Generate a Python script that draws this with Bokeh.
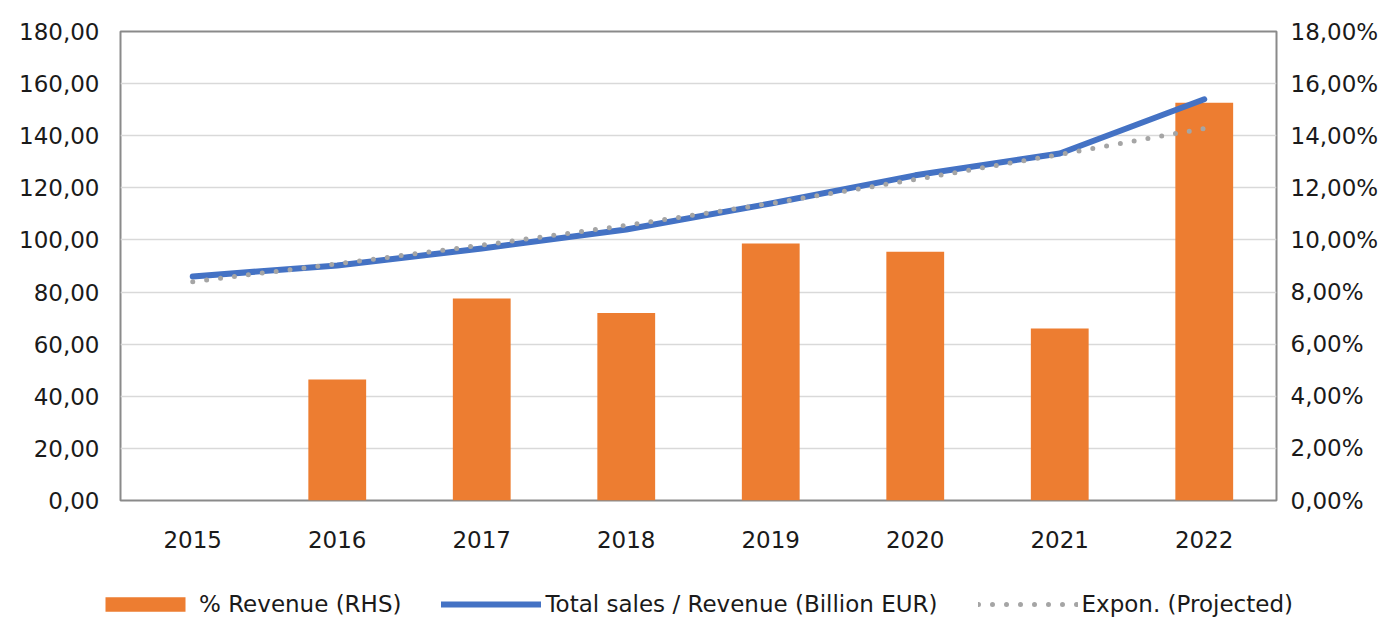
from bokeh.plotting import figure
from bokeh.layouts import column, row
from bokeh.models import (Range1d, FactorRange, LinearAxis, FixedTicker,
                          CustomJSTickFormatter, Legend, LegendItem, ColumnDataSource)
from bokeh.embed import file_html
from bokeh.resources import INLINE

years = ["2015", "2016", "2017", "2018", "2019", "2020", "2021", "2022"]
revenue = [86.0, 90.2, 96.7, 104.0, 114.0, 124.8, 133.2, 154.0]
pct_revenue = [float("nan"), 0.0464, 0.0775, 0.0720, 0.0986, 0.0955, 0.0660, 0.1527]
projected = [84.0, 90.8, 98.0, 105.6, 114.0, 123.2, 132.8, 142.8]
left_ticks = [0, 20, 40, 60, 80, 100, 120, 140, 160, 180]
right_ticks = [0, 0.02, 0.04, 0.06, 0.08, 0.10, 0.12, 0.14, 0.16, 0.18]
series_names = ["% Revenue (RHS)", "Total sales / Revenue (Billion EUR)", "Expon. (Projected)"]

FONT = "DejaVu Sans"
FS = "23px"
TXT = "#1a1a1a"
ORANGE, BLUE, GRAY = "#ED7D31", "#4472C4", "#A5A5A5"

src = ColumnDataSource(dict(year=years, revenue=revenue, pct=pct_revenue, proj=projected))


def add_series(fig, y_name):
    b = fig.vbar(x="year", top="pct", width=0.4, source=src, y_range_name=y_name,
                 fill_color=ORANGE, line_color=None)
    l = fig.line(x="year", y="revenue", source=src, line_color=BLUE, line_width=6,
                 line_cap="round", line_join="round")
    t = fig.line(x="year", y="proj", source=src, line_color=GRAY, line_width=5,
                 line_dash="0 14", line_cap="round")
    return b, l, t


p = figure(x_range=FactorRange(*years, range_padding=0), y_range=Range1d(0, 180),
           width=1393, height=560, output_backend="svg", toolbar_location=None,
           min_border_left=120, min_border_right=117, min_border_top=31, min_border_bottom=60)
p.extra_y_ranges = {"pct": Range1d(0, 0.18)}
add_series(p, "pct")

# axes
p.yaxis.ticker = FixedTicker(ticks=left_ticks)
p.yaxis.formatter = CustomJSTickFormatter(code="return tick.toFixed(2).replace('.', ',');")
raxis = LinearAxis(y_range_name="pct", ticker=FixedTicker(ticks=right_ticks),
                   formatter=CustomJSTickFormatter(
                       code="return (tick*100).toFixed(2).replace('.', ',') + '%';"))
p.add_layout(raxis, "right")

for ax in [p.xaxis[0], p.yaxis[0], raxis]:
    ax.axis_line_color = None
    ax.major_tick_line_color = None
    ax.minor_tick_line_color = None
    ax.major_tick_out = 0
    ax.major_tick_in = 0
    ax.minor_tick_out = 0
    ax.minor_tick_in = 0
    ax.major_label_text_font = FONT
    ax.major_label_text_font_size = FS
    ax.major_label_text_color = TXT
p.yaxis[0].major_label_standoff = 21
raxis.major_label_standoff = 14
p.xaxis[0].major_label_standoff = 30

p.xgrid.grid_line_color = None
p.ygrid.grid_line_color = "#d9d9d9"
p.ygrid.grid_line_width = 1.5
p.outline_line_color = "#8a8a8a"
p.outline_line_width = 2
p.background_fill_color = "white"
p.border_fill_color = "white"

# legend strip below the chart (same series, hidden, used only for the legend glyphs)
lg = figure(x_range=FactorRange(*years), y_range=Range1d(-20000, -19999), width=1393, height=57,
            output_backend="svg", toolbar_location=None, min_border=0,
            x_axis_location=None, y_axis_location=None)
lg.extra_y_ranges = {"pct": Range1d(-20000, -19999)}
lg.grid.visible = False
lg.outline_line_color = None
lg.border_fill_color = "white"
lg.background_fill_color = "white"
r_bar, r_line, r_trend = add_series(lg, "pct")
for r in (r_bar, r_line, r_trend):
    r.visible = False

legend = Legend(items=[
    LegendItem(label=series_names[0], renderers=[r_bar]),
    LegendItem(label=series_names[1], renderers=[r_line]),
    LegendItem(label=series_names[2], renderers=[r_trend]),
], orientation="horizontal", location=(95, 0))
legend.label_text_font = FONT
legend.label_text_font_size = FS
legend.label_text_color = TXT
legend.glyph_width = 100
legend.glyph_height = 18
legend.label_standoff = 4
legend.spacing = 40
legend.padding = 0
legend.margin = 0
legend.border_line_color = None
legend.background_fill_alpha = 0
legend.inactive_fill_alpha = 0
lg.add_layout(legend, "center")

layout = column(p, row(lg, spacing=0), spacing=0)
open("out.html", "w").write(file_html(layout, INLINE))
